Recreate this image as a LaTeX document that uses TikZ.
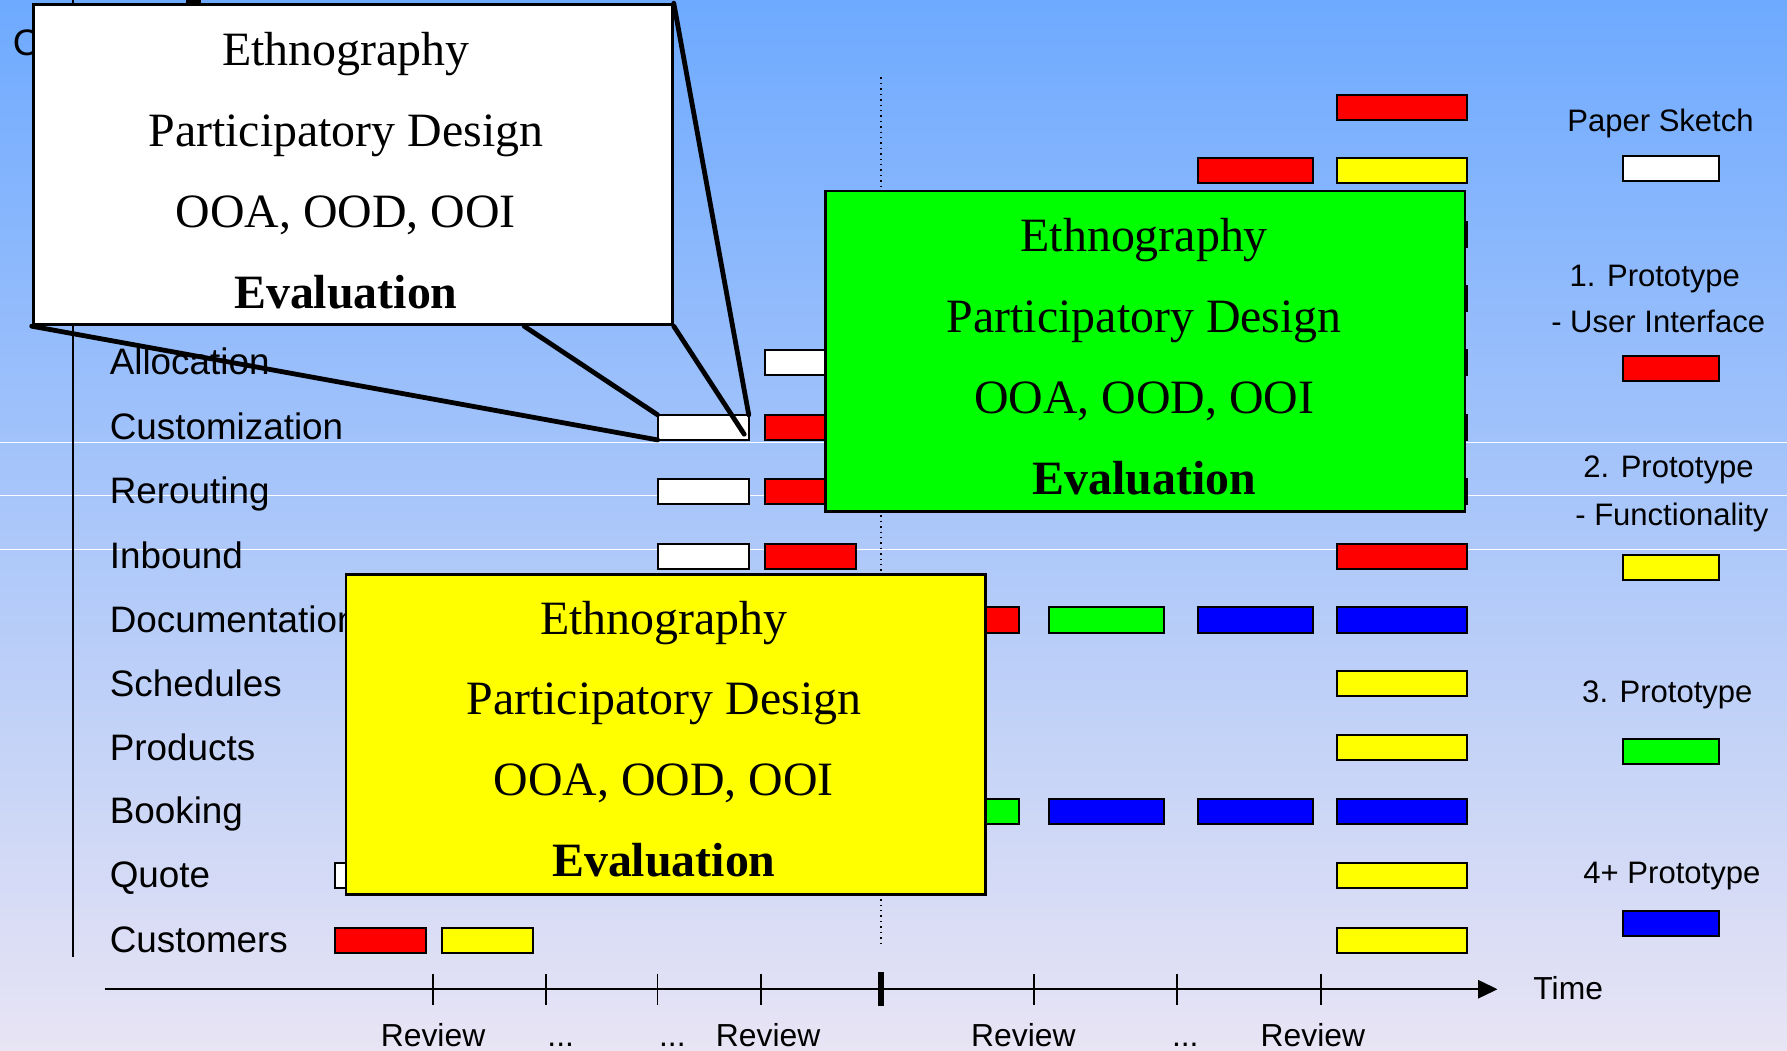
\documentclass[tikz,border=0pt]{standalone}
\usepackage{fontspec}
\setmainfont{Liberation Sans}
\newfontfamily\boxfont{Liberation Serif}
\usetikzlibrary{arrows.meta,calc}

\definecolor{bgtop}{RGB}{110,170,255}
\definecolor{bgbot}{RGB}{232,228,244}
\definecolor{sketch}{RGB}{255,255,255}
\definecolor{protoone}{RGB}{255,0,0}
\definecolor{prototwo}{RGB}{255,255,0}
\definecolor{protothree}{RGB}{0,255,0}
\definecolor{protofour}{RGB}{0,0,255}

\tikzset{
  bar/.style={draw=black, line width=1pt, inner sep=0pt, outer sep=0pt,
    minimum height=0.44cm, minimum width=2.28cm},
  short/.style={minimum width=1.6cm},
  mid/.style={minimum width=2.02cm},
  legendbox/.style={bar, minimum width=1.68cm},
  rowlabel/.style={anchor=base west, inner sep=0pt, font=\fontsize{18.4}{22}\selectfont},
  legend/.style={anchor=base, inner sep=0pt, font=\fontsize{15.5}{18}\selectfont},
  axislabel/.style={anchor=base, inner sep=0pt, font=\fontsize{15.9}{18}\selectfont},
  methods/.style={draw=black, line width=1.4pt, minimum width=11.22cm, minimum height=5.62cm, inner sep=0pt},
  methodstext/.style={align=center, inner sep=0pt, font=\boxfont\fontsize{23.9}{40.4}\selectfont},
  callout/.style={line width=2.4pt, line cap=round},
  tick/.style={line width=0.9pt},
}

\begin{document}
\begin{tikzpicture}[x=0.02cm, y=-0.02cm]
        % Background, fading from blue to lavender
        \shade[top color=bgtop, bottom color=bgbot] (0,0) rectangle (1568,922);
        \useasboundingbox (0,0) rectangle (1568,922);

        % Thin white stripes across the slide
        \draw[white, line width=0.5pt] (0,388) -- (1568,388);
        \draw[white, line width=0.5pt] (0,435) -- (1568,435);
        \draw[white, line width=0.5pt] (0,482) -- (1568,482);

        % Hidden title letter and the vertical axis
        \node[rowlabel, anchor=base west] (title) at (11,49) {C};
        \coordinate (vtop) at (64,0);
        \coordinate (vbot) at (64,840);
        \draw[line width=0.8pt] (vtop) -- (vbot);
        \fill[black] (163,0) rectangle (176,5);

        % Row labels
        \node[rowlabel] (alloc) at (96,329) {Allocation};
        \node[rowlabel] (custom) at (96,386) {Customization};
        \node[rowlabel] (rerout) at (96,442) {Rerouting};
        \node[rowlabel] (inbound) at (96,499) {Inbound};
        \node[rowlabel] (docu) at (96,555) {Documentation};
        \node[rowlabel] (sched) at (96,611) {Schedules};
        \node[rowlabel] (prod) at (96,667) {Products};
        \node[rowlabel] (book) at (96,723) {Booking};
        \node[rowlabel] (quote) at (96,779) {Quote};
        \node[rowlabel] (cust) at (96,836) {Customers};

        % Dotted line for the current review
        \coordinate (dtop) at (773,68);
        \coordinate (dbot) at (773,828);
        \draw[dotted, line width=0.7pt] (dtop) -- (dbot);

        % Time axis with review ticks
        \coordinate (tstart) at (92,868);
        \coordinate (tend) at (1314,868);
        \draw[line width=0.9pt, -{Triangle[length=0.34cm, width=0.32cm]}] (tstart) -- (tend);
        \draw[tick] (380,855) -- (380,882);
        \draw[tick] (479,855) -- (479,882);
        \draw[tick] (577,855) -- (577,882);
        \draw[tick] (668,855) -- (668,882);
        \draw[line width=2.6pt] (773,853) -- (773,883);
        \draw[tick] (907,855) -- (907,882);
        \draw[tick] (1033,855) -- (1033,882);
        \draw[tick] (1159,855) -- (1159,882);
        \node[axislabel] (time) at (1376,877) {Time};
        \node[axislabel] (rev1) at (380,918) {Review};
        \node[axislabel] (dots1) at (492,918) {...};
        \node[axislabel] (dots2) at (590,918) {...};
        \node[axislabel] (rev2) at (674,918) {Review};
        \node[axislabel] (rev3) at (898,918) {Review};
        \node[axislabel] (dots3) at (1040,918) {...};
        \node[axislabel] (rev4) at (1152,918) {Review};

        % Bars, row by row
        \node[bar, fill=protoone] (top1) at (1230.5,94) {};
        \node[bar, mid, fill=protoone] (top2c) at (1101.5,150) {};
        \node[bar, fill=prototwo] (top2) at (1230.5,150) {};
        \node[bar, fill=protoone] (top3) at (1230.5,206) {};
        \node[bar, fill=protoone] (top4) at (1230.5,262) {};
        \node[bar, fill=protoone] (alloc4) at (1230.5,318) {};
        \node[bar, fill=protoone] (custom4) at (1230.5,375) {};
        \node[bar, fill=protoone] (rerout4) at (1230.5,431) {};
        \node[bar, short, fill=sketch] (alloc1) at (711,318) {};
        \node[bar, short, fill=sketch] (custom1) at (617,375) {};
        \node[bar, short, fill=protoone] (custom2) at (711,375) {};
        \node[bar, short, fill=sketch] (rerout1) at (617,431) {};
        \node[bar, short, fill=protoone] (rerout2) at (711,431) {};
        \node[bar, short, fill=sketch] (inbound1) at (617,488) {};
        \node[bar, short, fill=protoone] (inbound2) at (711,488) {};
        \node[bar, fill=protoone] (inbound4) at (1230.5,488) {};
        \node[bar, mid, fill=protoone] (docu1) at (844,544) {};
        \node[bar, mid, fill=protothree] (docu2) at (971,544) {};
        \node[bar, mid, fill=protofour] (docu3) at (1101.5,544) {};
        \node[bar, fill=protofour] (docu4) at (1230.5,544) {};
        \node[bar, fill=prototwo] (sched4) at (1230.5,600) {};
        \node[bar, fill=prototwo] (prod4) at (1230.5,656) {};
        \node[bar, mid, fill=protothree] (book1) at (844,712) {};
        \node[bar, mid, fill=protofour] (book2) at (971,712) {};
        \node[bar, mid, fill=protofour] (book3) at (1101.5,712) {};
        \node[bar, fill=protofour] (book4) at (1230.5,712) {};
        \node[bar, short, fill=sketch] (quote1) at (333.5,768) {};
        \node[bar, fill=prototwo] (quote4) at (1230.5,768) {};
        \node[bar, short, fill=protoone] (cust1) at (333.5,825) {};
        \node[bar, short, fill=prototwo] (cust2) at (427.5,825) {};
        \node[bar, fill=prototwo] (cust4) at (1230.5,825) {};

        % Legend
        \node[legend] (lgsketch) at (1457,115) {Paper Sketch};
        \node[legendbox, fill=sketch] (lgsketchbox) at (1466,148) {};
        \node[legend] (lgone) at (1452,251) {1. Prototype};
        \node[legend] (lgonesub) at (1455,292) {- User Interface};
        \node[legendbox, fill=protoone] (lgonebox) at (1466,323) {};
        \node[legend] (lgtwo) at (1464,419) {2. Prototype};
        \node[legend] (lgtwosub) at (1467,461) {- Functionality};
        \node[legendbox, fill=prototwo] (lgtwobox) at (1466,498) {};
        \node[legend] (lgthree) at (1463,616) {3. Prototype};
        \node[legendbox, fill=protothree] (lgthreebox) at (1466,659) {};
        \node[legend] (lgfour) at (1467,775) {4+ Prototype};
        \node[legendbox, fill=protofour] (lgfourbox) at (1466,810) {};

        % Method boxes
        \node[methods, fill=protothree] (greenbox) at (1005,308) {};
        \node[methodstext] (greentext) at ($(greenbox.center)+(-1,5)$)
          {Ethnography\\Participatory Design\\OOA, OOD, OOI\\\textbf{Evaluation}};
        \node[methods, fill=prototwo] (yellowbox) at (584,644.5) {};
        \node[methodstext] (yellowtext) at ($(yellowbox.center)+(-1.5,4)$)
          {Ethnography\\Participatory Design\\OOA, OOD, OOI\\\textbf{Evaluation}};
        \node[methods, fill=sketch] (zoombox) at (309.5,144.5) {};
        \node[methodstext] (zoomtext) at ($(zoombox.center)+(-6,5)$)
          {Ethnography\\Participatory Design\\OOA, OOD, OOI\\\textbf{Evaluation}};

        % Zoom lines from the white box to the Customization sketch
        \coordinate (zoomfoot) at ($(zoombox.south west)!0.767!(zoombox.south east)$);
        \coordinate (custin) at ($(custom1.south east)+(-4,-5)$);
        \draw[callout] (zoombox.south west) -- (custom1.south west);
        \draw[callout] (zoomfoot) -- (custom1.north west);
        \draw[callout] (zoombox.north east) -- (custom1.north east);
        \draw[callout] (zoombox.south east) -- (custin);
    \end{tikzpicture}
\end{document}
